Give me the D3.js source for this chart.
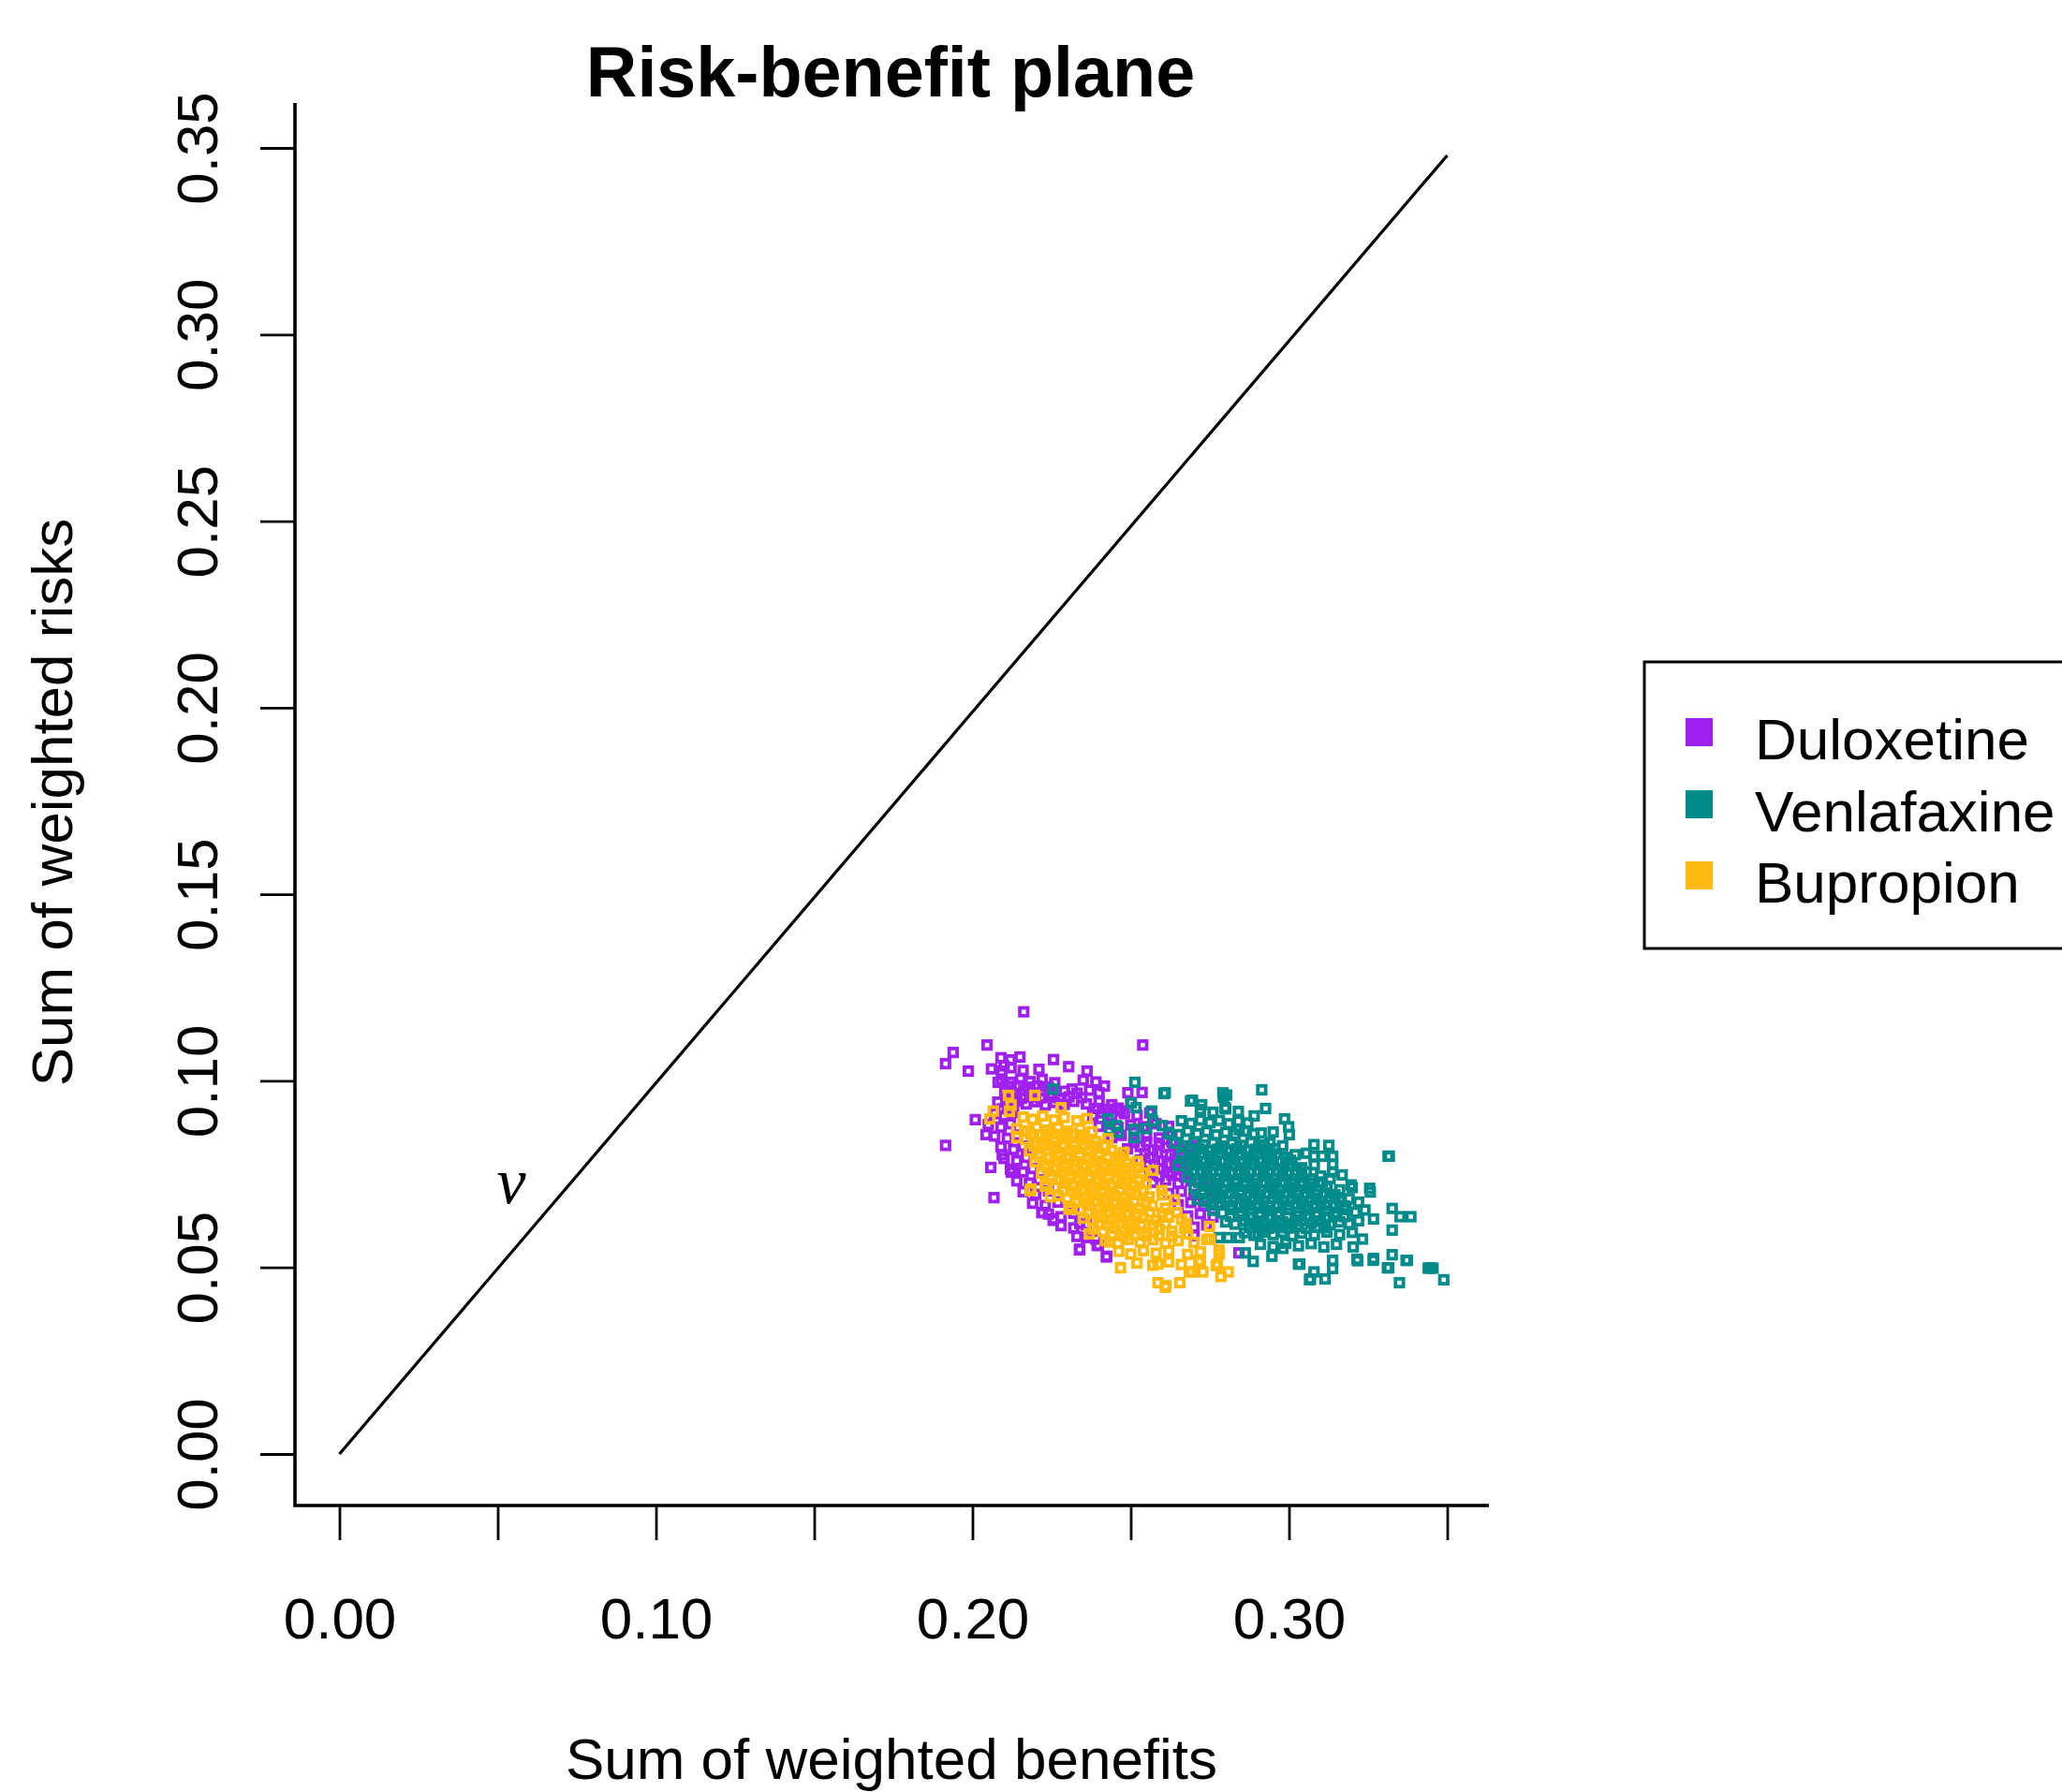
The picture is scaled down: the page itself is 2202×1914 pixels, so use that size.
<!DOCTYPE html>
<html>
<head>
<meta charset="utf-8">
<script src="https://cdn.jsdelivr.net/npm/d3@7"></script>
<style>
  html, body { margin: 0; padding: 0; background: #fff; }
  svg { display: block; }
</style>
</head>
<body>
<div id="chart"></div>
<script>
// ── Data ──
const seriesNames = ['Duloxetine', 'Venlafaxine', 'Bupropion'];
const seriesColors = ['#A020F0', '#008B8B', '#FFB90F'];

const xTicks = [0, 0.05, 0.10, 0.15, 0.20, 0.25, 0.30, 0.35];
const xTickLabels = ['0.00', '', '0.10', '', '0.20', '', '0.30', ''];
const yTicks = [0, 0.05, 0.10, 0.15, 0.20, 0.25, 0.30, 0.35];
const yTickLabels = ['0.00', '0.05', '0.10', '0.15', '0.20', '0.25', '0.30', '0.35'];

const refLine = [[0, 0], [0.35, 0.348]];

const duloxetine = [
  [0.2162,0.1185],[0.2046,0.1096],[0.1939,0.1076],[0.1915,0.1046],[0.1987,0.1026],[0.2538,0.1096],
  [0.1915,0.0827],[0.2009,0.0896],[0.2058,0.0768],[0.2068,0.0687],[0.2256,0.1057],[0.2304,0.1038],
  [0.2362,0.1026],[0.2081,0.0996],[0.2338,0.0547],[0.2423,0.0528],[0.2398,0.0559],[0.2255,0.0626],
  [0.2219,0.0647],[0.2842,0.0539],[0.2536,0.0969],[0.2491,0.0968],[0.2468,0.0919],[0.2417,0.0986],
  [0.2315,0.0978],[0.2043,0.0856],[0.2126,0.0760],[0.2094,0.0802],[0.2123,0.0755],[0.2221,0.0647],
  [0.2256,0.0630],[0.2339,0.0618],[0.2339,0.0549],[0.2394,0.0559],[0.2424,0.0530],[0.2360,0.0580],
  [0.2090,0.1062],[0.2120,0.1056],[0.2150,0.1064],[0.2100,0.1040],
  [0.2060,0.1032],[0.2092,0.1026],[0.2122,0.1035],[0.2160,0.1028],[0.2210,0.1031],
  [0.2092,0.1003],[0.2122,0.0996],[0.2152,0.1005],[0.2182,0.0998],[0.2220,0.1004],[0.2260,0.0995],[0.2350,0.1002],[0.2390,0.0997],
  [0.2115,0.0985],[0.2145,0.0987],[0.2175,0.0983],[0.2205,0.0986],[0.2240,0.0984],
  [0.2102,0.0972],[0.2132,0.0966],[0.2162,0.0975],[0.2192,0.0968],[0.2222,0.0974],[0.2252,0.0965],[0.2290,0.0972],[0.2330,0.0967],[0.2370,0.0975],[0.2400,0.0968],
  [0.2125,0.0955],[0.2155,0.0953],[0.2185,0.0957],[0.2215,0.0954],[0.2245,0.0956],[0.2275,0.0953],[0.2305,0.0957],[0.2345,0.0955],
  [0.2080,0.0943],[0.2110,0.0936],[0.2140,0.0945],[0.2170,0.0938],[0.2200,0.0944],[0.2230,0.0935],[0.2260,0.0942],[0.2290,0.0937],[0.2320,0.0945],[0.2360,0.0938],[0.2400,0.0944],[0.2440,0.0936],[0.2500,0.0942],
  [0.2095,0.0925],[0.2125,0.0923],[0.2395,0.0926],[0.2425,0.0924],[0.2460,0.0927],
  [0.2070,0.0912],[0.2100,0.0906],[0.2130,0.0915],[0.2380,0.0908],[0.2410,0.0914],[0.2440,0.0905],[0.2480,0.0912],[0.2520,0.0907],[0.2560,0.0914],
  [0.2050,0.0883],[0.2090,0.0876],[0.2120,0.0885],[0.2400,0.0878],[0.2430,0.0884],[0.2460,0.0875],[0.2500,0.0882],[0.2540,0.0877],[0.2580,0.0885],[0.2620,0.0878],
  [0.2070,0.0852],[0.2110,0.0846],[0.2140,0.0855],[0.2440,0.0848],[0.2470,0.0854],[0.2510,0.0845],[0.2550,0.0852],[0.2590,0.0847],[0.2630,0.0855],
  [0.2510,0.0835],[0.2550,0.0837],[0.2590,0.0833],[0.2630,0.0836],
  [0.2090,0.0823],[0.2130,0.0816],[0.2160,0.0825],[0.2490,0.0818],[0.2530,0.0824],[0.2570,0.0815],[0.2610,0.0822],[0.2650,0.0817],[0.2690,0.0825],
  [0.2545,0.0805],[0.2585,0.0807],[0.2625,0.0803],[0.2665,0.0806],
  [0.2100,0.0792],[0.2140,0.0786],[0.2170,0.0795],[0.2530,0.0788],[0.2560,0.0794],[0.2600,0.0785],[0.2640,0.0792],[0.2680,0.0787],
  [0.2575,0.0775],[0.2615,0.0777],[0.2655,0.0773],
  [0.2120,0.0763],[0.2160,0.0756],[0.2190,0.0765],[0.2560,0.0758],[0.2590,0.0764],[0.2620,0.0755],[0.2660,0.0762],[0.2700,0.0757],
  [0.2590,0.0745],[0.2630,0.0747],[0.2670,0.0743],
  [0.2140,0.0732],[0.2180,0.0726],[0.2210,0.0735],[0.2570,0.0728],[0.2610,0.0734],[0.2650,0.0725],[0.2690,0.0732],[0.2730,0.0727],
  [0.2160,0.0703],[0.2200,0.0696],[0.2240,0.0705],[0.2620,0.0698],[0.2660,0.0704],[0.2700,0.0695],[0.2760,0.0702],
  [0.2190,0.0672],[0.2230,0.0666],[0.2270,0.0675],[0.2650,0.0668],[0.2690,0.0674],[0.2730,0.0665],[0.2780,0.0672],
  [0.2240,0.0643],[0.2280,0.0636],[0.2320,0.0645],[0.2680,0.0638],[0.2720,0.0644],[0.2760,0.0635],
  [0.2280,0.0612],[0.2320,0.0606],[0.2360,0.0615],[0.2700,0.0608],[0.2740,0.0614],
  [0.2330,0.0583],[0.2390,0.0576],[0.2700,0.0585]
];

const venlafaxine = [
  [0.2513,0.0996],[0.2255,0.0978],[0.2609,0.0968],[0.2689,0.0946],[0.2791,0.0968],[0.2914,0.0976],
  [0.2926,0.0926],[0.2890,0.0906],[0.2793,0.0956],[0.2803,0.0962],[0.2695,0.0948],[0.2724,0.0936],
  [0.2798,0.0928],[0.2986,0.0898],[0.2999,0.0877],[0.3001,0.0856],[0.3079,0.0829],[0.3126,0.0827],
  [0.3079,0.0798],[0.3105,0.0798],[0.3138,0.0798],[0.3138,0.0776],[0.3138,0.0756],[0.3168,0.0748],
  [0.3196,0.0721],[0.3255,0.0712],[0.3313,0.0798],[0.3055,0.0806],[0.2843,0.0869],[0.2912,0.0860],
  [0.2922,0.0827],[0.2428,0.0898],[0.2433,0.0869],[0.2502,0.0941],[0.2517,0.0928],[0.2566,0.0919],
  [0.2605,0.0966],[0.2455,0.0880],[0.2460,0.0862],[0.2510,0.0870],[0.2512,0.0848],[0.2550,0.0872],
  [0.2570,0.0892],[0.2600,0.0880],[0.2620,0.0858],
  [0.3030,0.0509],[0.3065,0.0467],[0.3114,0.0469],[0.3079,0.0488],[0.3138,0.0497],[0.3138,0.0519],
  [0.3217,0.0518],[0.3311,0.0499],[0.3326,0.0534],[0.3370,0.0519],[0.3349,0.0459],[0.3440,0.0498],
  [0.3455,0.0498],[0.3489,0.0467],[0.3326,0.0658],[0.3351,0.0636],[0.3385,0.0636],[0.3326,0.0600],
  [0.3267,0.0630],[0.3232,0.0576],[0.3267,0.0524],[0.2946,0.0530],[0.2887,0.0516],[0.2862,0.0539],
  [0.2779,0.0580],[0.2808,0.0580],[0.2843,0.0580],[0.2902,0.0589],[0.2981,0.0551],[0.3203,0.0555],
  [0.3257,0.0702],[0.3317,0.0798],[0.3034,0.0509],[0.3068,0.0469],[0.3215,0.0522],[0.3266,0.0519],
  [0.3315,0.0499],[0.3374,0.0519],[0.3447,0.0499],
  [0.2720,0.0923],[0.2760,0.0916],[0.2800,0.0925],[0.2840,0.0918],
  [0.2660,0.0893],[0.2690,0.0886],[0.2720,0.0895],[0.2750,0.0888],[0.2780,0.0894],[0.2810,0.0885],[0.2840,0.0892],[0.2870,0.0887],
  [0.2620,0.0862],[0.2650,0.0856],[0.2680,0.0865],[0.2710,0.0858],[0.2740,0.0864],[0.2770,0.0855],[0.2800,0.0862],[0.2830,0.0857],[0.2860,0.0865],[0.2890,0.0858],[0.2950,0.0863],
  [0.2640,0.0833],[0.2670,0.0826],[0.2700,0.0835],[0.2730,0.0828],[0.2760,0.0834],[0.2790,0.0825],[0.2820,0.0832],[0.2850,0.0827],[0.2880,0.0835],[0.2910,0.0828],[0.2940,0.0834],[0.2980,0.0826],
  [0.2685,0.0816],[0.2715,0.0818],[0.2745,0.0814],[0.2775,0.0817],[0.2805,0.0815],[0.2835,0.0818],[0.2865,0.0814],[0.2895,0.0817],[0.2925,0.0815],[0.2955,0.0818],
  [0.2660,0.0802],[0.2690,0.0796],[0.2720,0.0805],[0.2750,0.0798],[0.2780,0.0804],[0.2810,0.0795],[0.2840,0.0802],[0.2870,0.0797],[0.2900,0.0805],[0.2930,0.0798],[0.2960,0.0804],[0.2990,0.0795],[0.3020,0.0802],
  [0.2675,0.0786],[0.2705,0.0788],[0.2735,0.0784],[0.2765,0.0787],[0.2795,0.0785],[0.2825,0.0788],[0.2855,0.0784],[0.2885,0.0787],[0.2915,0.0785],[0.2945,0.0788],[0.2975,0.0784],[0.3005,0.0787],
  [0.2650,0.0773],[0.2680,0.0766],[0.2710,0.0775],[0.2740,0.0768],[0.2770,0.0774],[0.2800,0.0765],[0.2830,0.0772],[0.2860,0.0767],[0.2890,0.0775],[0.2920,0.0768],[0.2950,0.0774],[0.2980,0.0765],[0.3010,0.0772],[0.3040,0.0767],[0.3080,0.0775],
  [0.2695,0.0757],[0.2725,0.0759],[0.2755,0.0755],[0.2785,0.0758],[0.2815,0.0756],[0.2845,0.0759],[0.2875,0.0755],[0.2905,0.0758],[0.2935,0.0756],[0.2965,0.0759],[0.2995,0.0755],[0.3025,0.0758],[0.3055,0.0756],
  [0.2680,0.0742],[0.2710,0.0736],[0.2740,0.0745],[0.2770,0.0738],[0.2800,0.0744],[0.2830,0.0735],[0.2860,0.0742],[0.2890,0.0737],[0.2920,0.0745],[0.2950,0.0738],[0.2980,0.0744],[0.3010,0.0735],[0.3040,0.0742],[0.3070,0.0737],[0.3100,0.0745],[0.3130,0.0738],
  [0.2715,0.0727],[0.2745,0.0729],[0.2775,0.0725],[0.2805,0.0728],[0.2835,0.0726],[0.2865,0.0729],[0.2895,0.0725],[0.2925,0.0728],[0.2955,0.0726],[0.2985,0.0729],[0.3015,0.0725],[0.3045,0.0728],[0.3075,0.0726],[0.3105,0.0729],
  [0.2700,0.0713],[0.2730,0.0706],[0.2760,0.0715],[0.2790,0.0708],[0.2820,0.0714],[0.2850,0.0705],[0.2880,0.0712],[0.2910,0.0707],[0.2940,0.0715],[0.2970,0.0708],[0.3000,0.0714],[0.3030,0.0705],[0.3060,0.0712],[0.3090,0.0707],[0.3120,0.0715],[0.3160,0.0708],[0.3200,0.0714],
  [0.2725,0.0697],[0.2755,0.0699],[0.2785,0.0695],[0.2815,0.0698],[0.2845,0.0696],[0.2875,0.0699],[0.2905,0.0695],[0.2935,0.0698],[0.2965,0.0696],[0.2995,0.0699],[0.3025,0.0695],[0.3055,0.0698],[0.3085,0.0696],[0.3115,0.0699],[0.3145,0.0695],
  [0.2710,0.0682],[0.2740,0.0676],[0.2770,0.0685],[0.2800,0.0678],[0.2830,0.0684],[0.2860,0.0675],[0.2890,0.0682],[0.2920,0.0677],[0.2950,0.0685],[0.2980,0.0678],[0.3010,0.0684],[0.3040,0.0675],[0.3070,0.0682],[0.3100,0.0677],[0.3130,0.0685],[0.3160,0.0678],[0.3190,0.0684],[0.3220,0.0675],
  [0.2755,0.0667],[0.2785,0.0669],[0.2815,0.0665],[0.2845,0.0668],[0.2875,0.0666],[0.2905,0.0669],[0.2935,0.0665],[0.2965,0.0668],[0.2995,0.0666],[0.3025,0.0669],[0.3055,0.0665],[0.3085,0.0668],[0.3115,0.0666],[0.3145,0.0669],[0.3175,0.0665],
  [0.2760,0.0653],[0.2790,0.0646],[0.2820,0.0655],[0.2850,0.0648],[0.2880,0.0654],[0.2910,0.0645],[0.2940,0.0652],[0.2970,0.0647],[0.3000,0.0655],[0.3030,0.0648],[0.3060,0.0654],[0.3090,0.0645],[0.3120,0.0652],[0.3150,0.0647],[0.3180,0.0655],[0.3210,0.0648],[0.3240,0.0654],
  [0.2815,0.0637],[0.2845,0.0639],[0.2875,0.0635],[0.2905,0.0638],[0.2935,0.0636],[0.2965,0.0639],[0.2995,0.0635],[0.3025,0.0638],[0.3055,0.0636],[0.3085,0.0639],[0.3115,0.0635],[0.3145,0.0638],[0.3175,0.0636],
  [0.2800,0.0622],[0.2830,0.0616],[0.2860,0.0625],[0.2890,0.0618],[0.2920,0.0624],[0.2950,0.0615],[0.2980,0.0622],[0.3010,0.0617],[0.3040,0.0625],[0.3070,0.0618],[0.3100,0.0624],[0.3130,0.0615],[0.3160,0.0622],[0.3190,0.0617],[0.3220,0.0625],
  [0.2875,0.0607],[0.2905,0.0609],[0.2935,0.0605],[0.2965,0.0608],[0.2995,0.0606],[0.3025,0.0609],[0.3055,0.0605],[0.3085,0.0608],[0.3115,0.0606],
  [0.2860,0.0593],[0.2890,0.0586],[0.2920,0.0595],[0.2950,0.0588],[0.2980,0.0594],[0.3010,0.0585],[0.3040,0.0592],[0.3080,0.0587],[0.3120,0.0595],[0.3160,0.0588],[0.3200,0.0594],
  [0.2910,0.0562],[0.2950,0.0556],[0.2990,0.0565],[0.3030,0.0558],[0.3070,0.0564],[0.3110,0.0555],[0.3150,0.0562]
];

const bupropion = [
  [0.2114,0.0961],[0.2197,0.0961],[0.2280,0.0928],[0.2055,0.0898],[0.2066,0.0919],[0.2117,0.0918],
  [0.2122,0.0935],[0.2140,0.0848],
  [0.2468,0.0499],[0.2586,0.0509],[0.2586,0.0459],[0.2611,0.0451],[0.2655,0.0459],[0.2609,0.0447],
  [0.2694,0.0488],[0.2728,0.0488],[0.2785,0.0476],[0.2808,0.0488],[0.2774,0.0509],[0.2715,0.0518],
  [0.2685,0.0488],[0.2749,0.0610],[0.2751,0.0576],[0.2779,0.0547],[0.2675,0.0618],[0.2680,0.0590],
  [0.2646,0.0647],[0.2369,0.0590],[0.2182,0.0706],[0.2231,0.0723],[0.2246,0.0689],[0.2305,0.0656],
  [0.2433,0.0568],[0.2570,0.0760],[0.2525,0.0768],[0.2598,0.0706],[0.2638,0.0681],[0.2185,0.0710],
  [0.2230,0.0718],
  [0.2160,0.0903],[0.2190,0.0897],[0.2222,0.0906],[0.2258,0.0895],[0.2290,0.0902],[0.2330,0.0893],[0.2362,0.0899],
  [0.2140,0.0872],[0.2172,0.0866],[0.2203,0.0875],[0.2238,0.0868],[0.2270,0.0874],[0.2301,0.0865],[0.2340,0.0871],[0.2378,0.0864],
  [0.2185,0.0857],[0.2218,0.0855],[0.2250,0.0858],[0.2282,0.0856],[0.2315,0.0857],[0.2348,0.0855],
  [0.2168,0.0843],[0.2200,0.0836],[0.2232,0.0845],[0.2262,0.0838],[0.2293,0.0844],[0.2322,0.0835],[0.2352,0.0842],[0.2390,0.0837],[0.2428,0.0845],
  [0.2196,0.0826],[0.2228,0.0828],[0.2258,0.0825],[0.2290,0.0827],[0.2322,0.0826],[0.2355,0.0828],[0.2388,0.0825],[0.2420,0.0827],
  [0.2180,0.0812],[0.2212,0.0806],[0.2240,0.0815],[0.2272,0.0808],[0.2308,0.0813],[0.2338,0.0804],[0.2370,0.0811],[0.2402,0.0806],[0.2440,0.0814],[0.2478,0.0808],
  [0.2212,0.0797],[0.2244,0.0795],[0.2275,0.0798],[0.2306,0.0796],[0.2338,0.0797],[0.2368,0.0795],[0.2398,0.0798],[0.2430,0.0796],[0.2465,0.0797],
  [0.2198,0.0783],[0.2228,0.0776],[0.2260,0.0785],[0.2290,0.0778],[0.2322,0.0784],[0.2350,0.0775],[0.2382,0.0782],[0.2412,0.0777],[0.2450,0.0785],[0.2488,0.0779],[0.2522,0.0784],
  [0.2235,0.0767],[0.2266,0.0765],[0.2296,0.0768],[0.2328,0.0766],[0.2358,0.0767],[0.2388,0.0765],[0.2420,0.0768],[0.2450,0.0766],[0.2485,0.0767],
  [0.2218,0.0752],[0.2250,0.0746],[0.2280,0.0755],[0.2310,0.0748],[0.2342,0.0754],[0.2372,0.0745],[0.2402,0.0752],[0.2432,0.0747],[0.2462,0.0755],[0.2500,0.0749],[0.2538,0.0753],
  [0.2248,0.0737],[0.2278,0.0735],[0.2308,0.0738],[0.2338,0.0736],[0.2368,0.0737],[0.2398,0.0735],[0.2428,0.0738],[0.2458,0.0736],[0.2490,0.0737],[0.2528,0.0735],
  [0.2232,0.0723],[0.2262,0.0716],[0.2292,0.0725],[0.2322,0.0718],[0.2352,0.0724],[0.2382,0.0715],[0.2412,0.0722],[0.2442,0.0717],[0.2472,0.0725],[0.2510,0.0719],[0.2548,0.0724],
  [0.2285,0.0706],[0.2315,0.0704],[0.2345,0.0707],[0.2375,0.0705],[0.2405,0.0706],[0.2435,0.0704],[0.2466,0.0707],[0.2500,0.0705],[0.2538,0.0706],
  [0.2270,0.0692],[0.2300,0.0686],[0.2330,0.0695],[0.2360,0.0688],[0.2390,0.0694],[0.2420,0.0685],[0.2450,0.0692],[0.2482,0.0687],[0.2518,0.0695],[0.2558,0.0689],[0.2600,0.0694],
  [0.2325,0.0676],[0.2355,0.0674],[0.2385,0.0677],[0.2415,0.0675],[0.2445,0.0676],[0.2476,0.0674],[0.2510,0.0677],[0.2548,0.0675],
  [0.2310,0.0663],[0.2340,0.0656],[0.2370,0.0665],[0.2400,0.0658],[0.2430,0.0664],[0.2460,0.0655],[0.2492,0.0662],[0.2528,0.0657],[0.2568,0.0665],[0.2610,0.0659],
  [0.2365,0.0646],[0.2395,0.0644],[0.2425,0.0647],[0.2455,0.0645],[0.2486,0.0646],[0.2520,0.0644],[0.2560,0.0647],[0.2600,0.0645],
  [0.2350,0.0632],[0.2380,0.0626],[0.2410,0.0635],[0.2440,0.0628],[0.2470,0.0634],[0.2500,0.0625],[0.2540,0.0632],[0.2580,0.0627],[0.2620,0.0635],[0.2660,0.0629],
  [0.2398,0.0616],[0.2430,0.0614],[0.2462,0.0617],[0.2496,0.0615],[0.2532,0.0616],[0.2570,0.0614],[0.2610,0.0617],
  [0.2382,0.0603],[0.2412,0.0596],[0.2448,0.0605],[0.2480,0.0598],[0.2512,0.0604],[0.2550,0.0595],[0.2590,0.0602],[0.2630,0.0597],[0.2670,0.0605],
  [0.2440,0.0586],[0.2476,0.0584],[0.2512,0.0587],[0.2550,0.0585],[0.2590,0.0586],[0.2630,0.0584],
  [0.2420,0.0572],[0.2460,0.0566],[0.2492,0.0575],[0.2530,0.0568],[0.2570,0.0574],[0.2610,0.0565],[0.2650,0.0572],[0.2700,0.0567],[0.2740,0.0575],
  [0.2462,0.0543],[0.2500,0.0536],[0.2540,0.0545],[0.2580,0.0538],[0.2620,0.0544],[0.2680,0.0535],[0.2720,0.0542],[0.2780,0.0537],
  [0.2520,0.0512],[0.2570,0.0506],[0.2620,0.0515],[0.2660,0.0508],[0.2720,0.0514],[0.2770,0.0505]
];

const seriesPoints = [duloxetine, venlafaxine, bupropion];

// ── Layout ──
const WIDTH = 2202;
const HEIGHT = 1914;
const FONT = '"Liberation Sans", Arial, Helvetica, sans-serif';

const svg = d3.select('#chart')
  .append('svg')
  .attr('width', WIDTH)
  .attr('height', HEIGHT)
  .style('font-family', FONT);

svg.append('rect').attr('width', WIDTH).attr('height', HEIGHT).attr('fill', '#fff');

const x = d3.scaleLinear().domain([0, 0.35]).range([362.5, 1545.5]);
const y = d3.scaleLinear().domain([0, 0.35]).range([1553, 158]);

const AXIS_X = 315;   // left frame line
const AXIS_Y = 1608;  // bottom frame line

// ── Title ──
svg.append('text')
  .attr('x', 951)
  .attr('y', 103)
  .attr('text-anchor', 'middle')
  .attr('font-size', 75.5)
  .attr('font-weight', 700)
  .text('Risk-benefit plane');

// ── Y axis ──
const yAxis = svg.append('g')
  .attr('transform', `translate(${AXIS_X},0)`)
  .call(d3.axisLeft(y).tickValues(yTicks).tickSize(37).tickSizeOuter(0)
    .tickFormat((d, i) => yTickLabels[i]));
yAxis.select('.domain').remove();
yAxis.selectAll('line').attr('stroke', '#000').attr('stroke-width', 2.8);
yAxis.selectAll('text')
  .attr('font-family', FONT)
  .attr('font-size', 62)
  .attr('fill', '#000')
  .attr('text-anchor', 'middle')
  .attr('transform', 'rotate(-90)')
  .attr('x', 0)
  .attr('y', -83)
  .attr('dy', 0);

// ── X axis ──
const xAxis = svg.append('g')
  .attr('transform', `translate(0,${AXIS_Y})`)
  .call(d3.axisBottom(x).tickValues(xTicks).tickSize(37).tickSizeOuter(0)
    .tickFormat((d, i) => xTickLabels[i]));
xAxis.select('.domain').remove();
xAxis.selectAll('line').attr('stroke', '#000').attr('stroke-width', 2.8);
xAxis.selectAll('text')
  .attr('font-family', FONT)
  .attr('font-size', 62)
  .attr('fill', '#000')
  .attr('y', 142)
  .attr('dy', 0);

// L-shaped frame
svg.append('path')
  .attr('d', `M${AXIS_X},110 L${AXIS_X},${AXIS_Y} L1590,${AXIS_Y}`)
  .attr('fill', 'none')
  .attr('stroke', '#000')
  .attr('stroke-width', 3.6);

// Axis titles
svg.append('text')
  .attr('x', 952)
  .attr('y', 1900)
  .attr('text-anchor', 'middle')
  .attr('font-size', 62)
  .text('Sum of weighted benefits');

svg.append('text')
  .attr('transform', 'translate(77,857) rotate(-90)')
  .attr('text-anchor', 'middle')
  .attr('font-size', 62)
  .text('Sum of weighted risks');

// ── Reference line ──
svg.append('path')
  .datum(refLine)
  .attr('d', d3.line().x(d => x(d[0])).y(d => y(d[1])))
  .attr('fill', 'none')
  .attr('stroke', '#000')
  .attr('stroke-width', 3.2);

svg.append('text')
  .attr('x', 546)
  .attr('y', 1285)
  .attr('text-anchor', 'middle')
  .attr('font-family', '"Liberation Serif", "DejaVu Serif", serif')
  .attr('font-style', 'italic')
  .attr('font-size', 70)
  .text('ν');

// ── Scatter (open squares, drawn in legend order) ──
const SQ = 8.4;
seriesPoints.forEach((pts, i) => {
  svg.append('g')
    .selectAll('rect')
    .data(pts)
    .enter()
    .append('rect')
    .attr('x', d => x(d[0]) - SQ / 2)
    .attr('y', d => y(d[1]) - SQ / 2)
    .attr('width', SQ)
    .attr('height', SQ)
    .attr('fill', 'none')
    .attr('stroke', seriesColors[i])
    .attr('stroke-width', 3.8);
});

// ── Legend ──
const legend = svg.append('g');
legend.append('rect')
  .attr('x', 1756)
  .attr('y', 707)
  .attr('width', 520)
  .attr('height', 306)
  .attr('fill', '#fff')
  .attr('stroke', '#000')
  .attr('stroke-width', 3);

const legendRows = [782, 859, 935];
seriesNames.forEach((name, i) => {
  legend.append('rect')
    .attr('x', 1800)
    .attr('y', legendRows[i] - 15)
    .attr('width', 29)
    .attr('height', 30)
    .attr('fill', seriesColors[i]);
  legend.append('text')
    .attr('x', 1874)
    .attr('y', legendRows[i] + 29)
    .attr('font-size', 62)
    .text(name);
});
</script>
</body>
</html>
